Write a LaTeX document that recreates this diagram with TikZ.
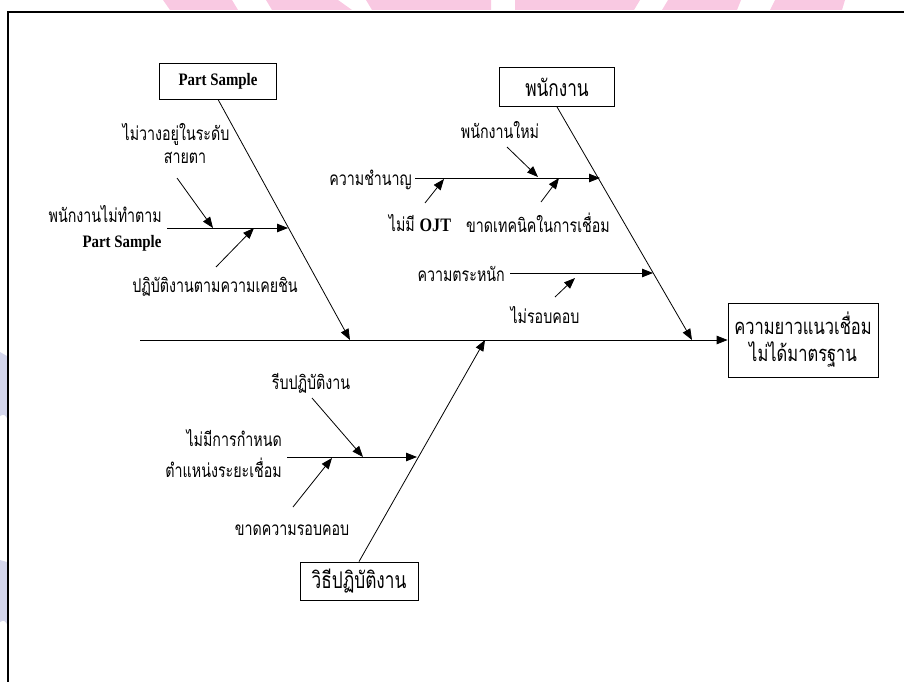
\documentclass[tikz,border=0pt]{standalone}
\usepackage{fontspec}
\setmainfont{Liberation Serif}
\newfontfamily\thaifont[Script=Thai,FakeStretch=0.75]{Loma}
\newfontfamily\condserif[FakeStretch=0.85]{Liberation Serif}
\usetikzlibrary{arrows.meta}
\begin{document}
\begin{tikzpicture}[x=1pt,y=-1pt,
  arr/.style={-{Triangle[length=11pt,width=8.5pt]}, line width=0.8pt},
  catbox/.style={draw, line width=0.8pt, inner sep=0pt, align=center,
    font=\thaifont\fontsize{23}{25}\selectfont},
  lbl/.style={inner sep=0pt, font=\thaifont\fontsize{19}{21}\selectfont},
  latinb/.style={inner sep=0pt, font=\condserif\bfseries\fontsize{17.5}{19}\selectfont},
]
\useasboundingbox (0,0) rectangle (904,682);

% faint watermark pieces along the top and left edges
\begin{scope}[fill={rgb,255:red,249;green,201;blue,226}, draw=none]
  \fill (163,0) -- (232,0) -- (238,10) -- (170,10) -- cycle;
  \fill (266,0) -- (338,0) -- (352,10) -- (272,10) -- cycle;
  \fill (366,0) -- (491,0) -- (491,10) -- (372,10) -- cycle;
  \fill (515,0) -- (640,0) -- (634,10) -- (515,10) -- cycle;
  \fill (668,0) -- (741,0) -- (737,10) -- (662,10) -- cycle;
  \fill (775,0) -- (845,0) -- (842,10) -- (770,10) -- cycle;
\end{scope}
\begin{scope}[fill={rgb,255:red,212;green,214;blue,236}, draw=none]
  \fill (0,352) -- (7,356) -- (7,418) .. controls (4,414) .. (0,416) -- cycle;
  \fill (0,560) -- (7,562) -- (7,624) .. controls (4,620) .. (0,622) -- cycle;
\end{scope}

% frame
\draw[line width=2pt] (8,682) -- (8,12) -- (904,12);

% category and effect boxes
\node[catbox, minimum width=117pt, minimum height=36pt, font=\condserif\bfseries\fontsize{17.5}{19}\selectfont]
  (ps) at (218,81) {Part Sample};
\node[catbox, minimum width=115pt, minimum height=39pt] (emp) at (557,87) {พนักงาน};
\node[catbox, minimum width=118pt, minimum height=38pt] (meth) at (359,581) {วิธีปฏิบัติงาน};
\node[catbox, minimum width=150pt, minimum height=74pt, font=\thaifont\fontsize{22}{24}\selectfont]
  (eff) at (803,340) {ความยาวแนวเชื่อม\\[3pt]ไม่ได้มาตรฐาน};

% spine and main bones
\coordinate (sp) at (140,340);
\coordinate (j1) at (350,340);
\coordinate (j2) at (692,340);
\coordinate (j3) at (485,340);
\draw[arr] (sp) -- (eff.west);
\draw[arr] (ps.south) -- (j1);
\draw[arr] (emp.south) -- (j2);
\draw[arr] (meth.north) -- (j3);

% --- Part Sample branch
\coordinate (a1s) at (167,228);
\coordinate (a1e) at (288,228);
\draw[arr] (a1s) -- (a1e);
\node[lbl] (a1l) at (176,134) {ไม่วางอยู่ในระดับ};
\node[lbl] (a1m) at (185,158) {สายตา};
\node[lbl, anchor=east] (a1n) at (162,214) {พนักงานไม่ทำตาม};
\node[latinb] (a1p) at (122,243) {Part Sample};
\node[lbl] (a1q) at (215,287) {ปฏิบัติงานตามความเคยชิน};
\coordinate (a2s) at (177,178);
\coordinate (a2e) at (213,228);
\coordinate (a3s) at (216,267);
\coordinate (a3e) at (254,228);
\draw[arr] (a2s) -- (a2e);
\draw[arr] (a3s) -- (a3e);

% --- staff branch
\coordinate (b1s) at (415,178);
\coordinate (b1e) at (600,178);
\draw[arr] (b1s) -- (b1e);
\node[lbl, anchor=east] (b1l) at (412,180) {ความชำนาญ};
\node[lbl] (b1a) at (500,130) {พนักงานใหม่};
\node[lbl] (b1b) at (420,223) {ไม่มี \textbf{\condserif OJT}};
\node[lbl] (b1c) at (538,223) {ขาดเทคนิคในการเชื่อม};
\coordinate (b2s) at (507,147);
\coordinate (b2e) at (538,177);
\coordinate (b3s) at (425,203);
\coordinate (b3e) at (444,179);
\coordinate (b4s) at (541,202);
\coordinate (b4e) at (559,178);
\draw[arr] (b2s) -- (b2e);
\draw[arr] (b3s) -- (b3e);
\draw[arr] (b4s) -- (b4e);

\coordinate (b5s) at (510,273);
\coordinate (b5e) at (653,273);
\draw[arr] (b5s) -- (b5e);
\node[lbl, anchor=east] (b5l) at (505,274) {ความตระหนัก};
\node[lbl] (b5a) at (545,315) {ไม่รอบคอบ};
\coordinate (b6s) at (555,297);
\coordinate (b6e) at (575,278);
\draw[arr] (b6s) -- (b6e);

% --- method branch
\coordinate (c1s) at (287,457);
\coordinate (c1e) at (417,457);
\draw[arr] (c1s) -- (c1e);
\node[lbl, anchor=east] (c1l) at (282,438) {ไม่มีการกำหนด};
\node[lbl, anchor=east] (c1m) at (282,468) {ตำแหน่งระยะเชื่อม};
\node[lbl] (c1a) at (311,383) {รีบปฏิบัติงาน};
\node[lbl] (c1b) at (292,530) {ขาดความรอบคอบ};
\coordinate (c2s) at (312,398);
\coordinate (c2e) at (363,457);
\coordinate (c3s) at (293,507);
\coordinate (c3e) at (332,458);
\draw[arr] (c2s) -- (c2e);
\draw[arr] (c3s) -- (c3e);
\end{tikzpicture}
\end{document}
